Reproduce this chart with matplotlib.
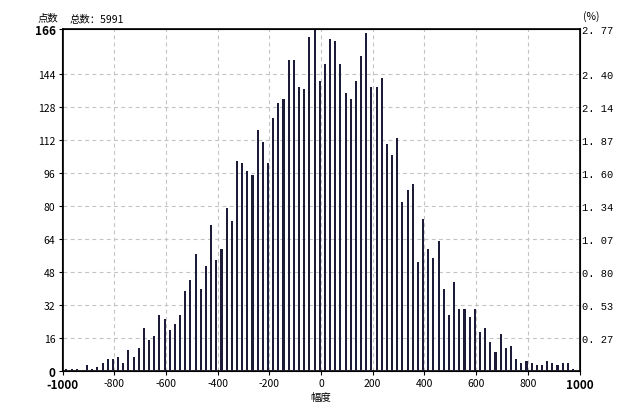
import numpy as np
import matplotlib
matplotlib.use("Agg")
import matplotlib.pyplot as plt

plt.rcParams['font.family'] = ['Noto Sans CJK SC', 'DejaVu Sans']

# histogram counts, bins of 20 from -1000 to 1000
counts = [1, 1, 1, 0, 3, 1, 2, 4, 6, 6,
          7, 4, 10, 7, 11, 21, 15, 17, 27, 25,
          20, 23, 27, 39, 44, 57, 40, 51, 71, 54,
          59, 79, 73, 102, 101, 97, 95, 117, 111, 101,
          123, 130, 132, 151, 151, 138, 137, 162, 166, 141,
          149, 161, 160, 149, 135, 132, 141, 153, 164, 138,
          138, 142, 110, 105, 113, 82, 88, 91, 53, 74,
          59, 55, 63, 40, 27, 43, 30, 30, 26, 30,
          19, 21, 14, 9, 18, 11, 12, 6, 4, 5,
          4, 3, 3, 5, 4, 3, 4, 4, 1]
total = 5991
x_ticks = [-1000, -800, -600, -400, -200, 0, 200, 400, 600, 800, 1000]
y_ticks = [0, 16, 32, 48, 64, 80, 96, 112, 128, 144, 166]
y_max = 166

xs = np.arange(-985, -985 + 20 * len(counts), 20)

fig = plt.figure(figsize=(6.24, 4.10), dpi=100)
ax = fig.add_axes([62.5 / 624, 1 - 372 / 410, 517 / 624, 342 / 410])

ax.bar(xs, counts, width=8, color='#1c1c38', antialiased=False, zorder=3)

ax.set_xlim(-1000, 1000)
ax.set_ylim(0, y_max)
ax.set_xticks(x_ticks)
ax.set_yticks(y_ticks)
ax.set_xticklabels([str(t) for t in x_ticks], fontsize=7.5)
ax.set_yticklabels([str(t) for t in y_ticks], fontsize=7.5)
for lab in [ax.get_xticklabels()[0], ax.get_xticklabels()[-1],
            ax.get_yticklabels()[0], ax.get_yticklabels()[-1]]:
    lab.set_fontweight('bold')
    lab.set_fontsize(8.5)
ax.tick_params(length=3, width=0.8, pad=2)

# grid on inner ticks only
for t in x_ticks[1:-1]:
    ax.axvline(t, color='#c4c4c4', lw=0.8, ls=(0, (3.5, 3)), zorder=1)
for t in y_ticks[1:-1]:
    ax.axhline(t, color='#c4c4c4', lw=0.8, ls=(0, (3.5, 3)), zorder=1)

for s in ax.spines.values():
    s.set_linewidth(1.2)

# right axis in percent
ax2 = ax.twinx()
ax2.set_ylim(0, y_max)
pct_ticks = y_ticks[1:]
ax2.set_yticks(pct_ticks)
ax2.set_yticklabels([f"{t / total * 100:.2f}".replace('.', '. ') for t in pct_ticks],
                    fontsize=7.5, family=['Liberation Mono', 'DejaVu Sans'])
ax2.tick_params(length=0, pad=2)

fig.text(38 / 624, 1 - 18 / 410, '点数', fontsize=7.5, va='center')
fig.text(70 / 624, 1 - 20 / 410, '总数：5991', fontsize=7.5, va='center')
fig.text(583 / 624, 1 - 17 / 410, '(%)', fontsize=7.5, va='center')
ax.set_xlabel('幅度', fontsize=7.5, labelpad=1)

fig.savefig('out.png', dpi=100)
